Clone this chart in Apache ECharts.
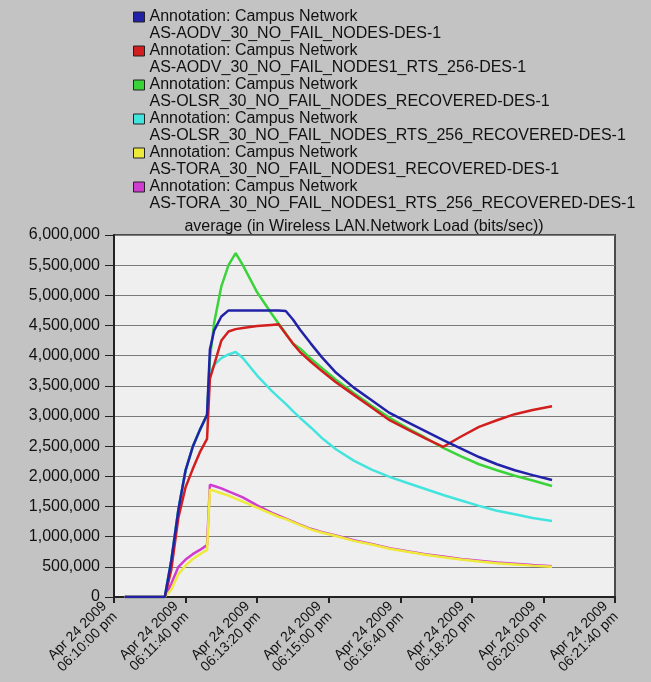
<!DOCTYPE html>
<html>
<head>
<meta charset="utf-8">
<script src="https://cdn.jsdelivr.net/npm/echarts@6/dist/echarts.min.js"></script>
<style>
  html, body {margin: 0; padding: 0; background: #c3c3c3;}
  #chart {width: 651px; height: 682px;}
</style>
</head>
<body>
<div id="chart"></div>
<script>
// time in seconds after Apr 24 2009 06:10:00 pm
var times = [15, 71, 80, 90, 100, 110, 120, 130, 134, 140, 150, 160, 170, 180, 200, 220, 230, 240, 250, 260,
             275, 290, 310, 335, 360, 385, 410, 435, 460, 485, 510, 535, 560, 585, 612];

var aodv = [0, 0, 600000, 1450000, 2100000, 2490000, 2770000, 3020000, 4100000, 4420000, 4650000, 4750000, 4750000, 4750000, 4750000, 4750000, 4750000, 4740000, 4600000, 4430000,
            4200000, 3980000, 3720000, 3470000, 3260000, 3050000, 2900000, 2750000, 2600000, 2460000, 2320000, 2200000, 2100000, 2020000, 1940000];
var aodvRts = [0, 0, 450000, 1320000, 1820000, 2120000, 2400000, 2620000, 3620000, 3850000, 4250000, 4400000, 4440000, 4460000, 4490000, 4510000, 4520000, 4360000, 4200000, 4060000,
               3900000, 3750000, 3560000, 3350000, 3140000, 2930000, 2780000, 2630000, 2490000, 2660000, 2820000, 2930000, 3030000, 3100000, 3160000];
var olsr = [0, 0, 600000, 1450000, 2100000, 2490000, 2770000, 3020000, 3950000, 4550000, 5150000, 5500000, 5700000, 5500000, 5050000, 4700000, 4530000, 4370000, 4200000, 4120000,
            3950000, 3800000, 3600000, 3380000, 3170000, 2970000, 2800000, 2640000, 2470000, 2330000, 2200000, 2100000, 2010000, 1930000, 1840000];
var olsrRts = [0, 0, 600000, 1450000, 2100000, 2490000, 2770000, 3000000, 3700000, 3850000, 3960000, 4020000, 4060000, 3960000, 3670000, 3420000, 3310000, 3200000, 3080000, 2970000,
               2810000, 2640000, 2450000, 2260000, 2110000, 1990000, 1890000, 1790000, 1690000, 1600000, 1510000, 1430000, 1370000, 1310000, 1260000];
var tora = [0, 0, 120000, 380000, 520000, 630000, 710000, 780000, 1780000, 1760000, 1720000, 1680000, 1630000, 1580000, 1480000, 1380000, 1330000, 1290000, 1240000, 1190000,
            1120000, 1070000, 1010000, 930000, 870000, 800000, 750000, 700000, 660000, 620000, 590000, 560000, 540000, 520000, 500000];
var toraRts = [0, 0, 220000, 500000, 620000, 710000, 780000, 860000, 1860000, 1840000, 1800000, 1750000, 1700000, 1650000, 1520000, 1400000, 1350000, 1300000, 1250000, 1200000,
               1130000, 1080000, 1020000, 940000, 880000, 810000, 760000, 710000, 670000, 630000, 600000, 570000, 550000, 530000, 510000];

var seriesNames = [
    'AS-AODV_30_NO_FAIL_NODES-DES-1',
    'AS-AODV_30_NO_FAIL_NODES1_RTS_256-DES-1',
    'AS-OLSR_30_NO_FAIL_NODES_RECOVERED-DES-1',
    'AS-OLSR_30_NO_FAIL_NODES_RTS_256_RECOVERED-DES-1',
    'AS-TORA_30_NO_FAIL_NODES1_RECOVERED-DES-1',
    'AS-TORA_30_NO_FAIL_NODES1_RTS_256_RECOVERED-DES-1'
];
var seriesValues = [aodv, aodvRts, olsr, olsrRts, tora, toraRts];
var seriesColors = ['#2222a8', '#d21e1e', '#3ad43a', '#44e4de', '#eeea3c', '#d03cd0'];
var seriesZ = [6, 5, 3, 4, 2, 1];

var tickDates = ['Apr 24 2009', 'Apr 24 2009', 'Apr 24 2009', 'Apr 24 2009', 'Apr 24 2009', 'Apr 24 2009', 'Apr 24 2009', 'Apr 24 2009'];
var tickTimes = ['06:10:00 pm', '06:11:40 pm', '06:13:20 pm', '06:15:00 pm', '06:16:40 pm', '06:18:20 pm', '06:20:00 pm', '06:21:40 pm'];

var font = 'Arial, "Liberation Sans", sans-serif';
var chart = echarts.init(document.getElementById('chart'));

var series = seriesNames.map(function (name, i) {
    return {
        name: name, type: 'line', showSymbol: false, z: seriesZ[i],
        lineStyle: {width: 2.5, color: seriesColors[i]}, itemStyle: {color: seriesColors[i]},
        data: times.map(function (t, k) { return [t, seriesValues[i][k]]; })
    };
});

var option = {
    backgroundColor: '#c3c3c3',
    animation: false,
    title: {text: 'average (in Wireless LAN.Network Load (bits/sec))', left: 364, top: 219, padding: 0, textAlign: 'center',
            textStyle: {fontFamily: font, fontSize: 16, fontWeight: 'normal', color: '#111'}},
    legend: {
        orient: 'vertical', left: 133, top: -8.5, padding: 0, itemGap: -17, itemWidth: 11, itemHeight: 10, icon: 'rect',
        itemStyle: {borderColor: '#222', borderWidth: 1},
        data: seriesNames,
        // blank first line so the square sits beside the "Annotation" line
        formatter: function (name) { return '\nAnnotation: Campus Network\n' + name; },
        textStyle: {fontFamily: font, fontSize: 16, color: '#111', lineHeight: 17}
    },
    grid: {left: 114, right: 36, top: 235, bottom: 85, outerBoundsMode: 'none', show: true,
           backgroundColor: '#efefef', borderColor: '#4a4a4a', borderWidth: 2},
    xAxis: {
        type: 'value', min: 0, max: 700, interval: 100,
        axisLine: {lineStyle: {color: '#222', width: 2}},
        axisTick: {show: true, length: 6, lineStyle: {color: '#222', width: 2}},
        splitLine: {show: false},
        axisLabel: {rotate: 45, margin: 8, padding: [0, 6, 0, 0], fontFamily: font, fontSize: 14, color: '#111', lineHeight: 15,
                    formatter: function (v) { var k = Math.round(v / 100); return tickDates[k] + '\n' + tickTimes[k]; }}
    },
    yAxis: {
        type: 'value', min: 0, max: 6000000, interval: 500000,
        axisLine: {show: true, lineStyle: {color: '#222', width: 2}},
        axisTick: {show: true, length: 9, lineStyle: {color: '#222', width: 1}},
        splitLine: {lineStyle: {color: '#7a7a7a', width: 1}},
        axisLabel: {margin: 14, fontFamily: font, fontSize: 16, color: '#111',
                    formatter: function (v) { return v.toLocaleString('en-US'); }}
    },
    series: series
};

chart.setOption(option);
</script>
</body>
</html>
